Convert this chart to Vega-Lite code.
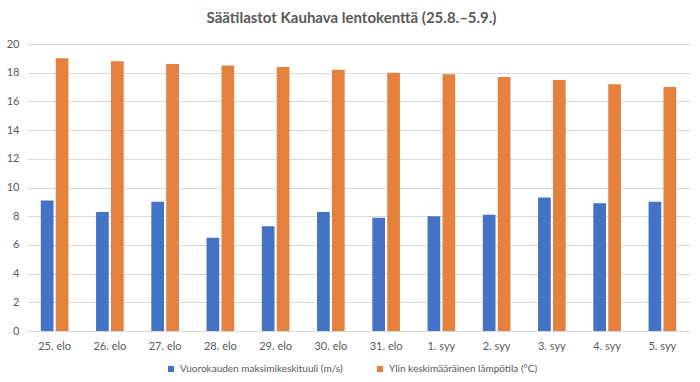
{
  "$schema": "https://vega.github.io/schema/vega-lite/v6.json",
  "autosize": {"type": "none"},
  "width": 663,
  "height": 287,
  "padding": {"left": 27, "top": 44, "right": 10, "bottom": 51},
  "title": {
    "text": "Säätilastot Kauhava lentokenttä (25.8.–5.9.)",
    "font": "Lato",
    "fontSize": 15,
    "fontWeight": "bold",
    "color": "#595959",
    "anchor": "middle",
    "dx": -7,
    "offset": 12
  },
  "data": {
    "values": [
      {"day": "25. elo", "series": "Vuorokauden maksimikeskituuli (m/s)", "value": 9.1},
      {"day": "26. elo", "series": "Vuorokauden maksimikeskituuli (m/s)", "value": 8.3},
      {"day": "27. elo", "series": "Vuorokauden maksimikeskituuli (m/s)", "value": 9.0},
      {"day": "28. elo", "series": "Vuorokauden maksimikeskituuli (m/s)", "value": 6.5},
      {"day": "29. elo", "series": "Vuorokauden maksimikeskituuli (m/s)", "value": 7.3},
      {"day": "30. elo", "series": "Vuorokauden maksimikeskituuli (m/s)", "value": 8.3},
      {"day": "31. elo", "series": "Vuorokauden maksimikeskituuli (m/s)", "value": 7.9},
      {"day": "1. syy", "series": "Vuorokauden maksimikeskituuli (m/s)", "value": 8.0},
      {"day": "2. syy", "series": "Vuorokauden maksimikeskituuli (m/s)", "value": 8.1},
      {"day": "3. syy", "series": "Vuorokauden maksimikeskituuli (m/s)", "value": 9.3},
      {"day": "4. syy", "series": "Vuorokauden maksimikeskituuli (m/s)", "value": 8.9},
      {"day": "5. syy", "series": "Vuorokauden maksimikeskituuli (m/s)", "value": 9.0},
      {"day": "25. elo", "series": "Ylin keskimääräinen lämpötila (°C)", "value": 19.0},
      {"day": "26. elo", "series": "Ylin keskimääräinen lämpötila (°C)", "value": 18.8},
      {"day": "27. elo", "series": "Ylin keskimääräinen lämpötila (°C)", "value": 18.6},
      {"day": "28. elo", "series": "Ylin keskimääräinen lämpötila (°C)", "value": 18.5},
      {"day": "29. elo", "series": "Ylin keskimääräinen lämpötila (°C)", "value": 18.4},
      {"day": "30. elo", "series": "Ylin keskimääräinen lämpötila (°C)", "value": 18.2},
      {"day": "31. elo", "series": "Ylin keskimääräinen lämpötila (°C)", "value": 18.0},
      {"day": "1. syy", "series": "Ylin keskimääräinen lämpötila (°C)", "value": 17.9},
      {"day": "2. syy", "series": "Ylin keskimääräinen lämpötila (°C)", "value": 17.7},
      {"day": "3. syy", "series": "Ylin keskimääräinen lämpötila (°C)", "value": 17.5},
      {"day": "4. syy", "series": "Ylin keskimääräinen lämpötila (°C)", "value": 17.2},
      {"day": "5. syy", "series": "Ylin keskimääräinen lämpötila (°C)", "value": 17.0}
    ]
  },
  "mark": {"type": "bar"},
  "encoding": {
    "x": {
      "field": "day",
      "type": "nominal",
      "sort": null,
      "scale": {"paddingInner": 0.5, "paddingOuter": 0.25},
      "axis": {
        "title": null,
        "labelAngle": 0,
        "ticks": false,
        "domainColor": "#d9d9d9",
        "labelPadding": 9
      }
    },
    "xOffset": {
      "field": "series",
      "type": "nominal",
      "scale": {"paddingInner": 0.15}
    },
    "y": {
      "field": "value",
      "type": "quantitative",
      "scale": {"domain": [0, 20]},
      "axis": {
        "title": null,
        "values": [0, 2, 4, 6, 8, 10, 12, 14, 16, 18, 20],
        "labelOverlap": false,
        "domain": false,
        "ticks": false,
        "gridColor": "#d9d9d9",
        "labelPadding": 8
      }
    },
    "color": {
      "field": "series",
      "type": "nominal",
      "scale": {"range": ["#4472c4", "#e5813e"]},
      "legend": {
        "title": null,
        "orient": "none",
        "legendX": 139,
        "legendY": 320,
        "direction": "horizontal",
        "symbolType": "square",
        "symbolSize": 36,
        "symbolOffset": 0,
        "labelOffset": 4,
        "columnPadding": 32
      }
    }
  },
  "config": {
    "view": {"stroke": null},
    "axis": {
      "labelFont": "Lato",
      "labelFontSize": 11,
      "labelColor": "#595959"
    },
    "legend": {
      "labelFont": "Lato",
      "labelFontSize": 10,
      "labelColor": "#595959",
      "labelLimit": 400
    }
  }
}
